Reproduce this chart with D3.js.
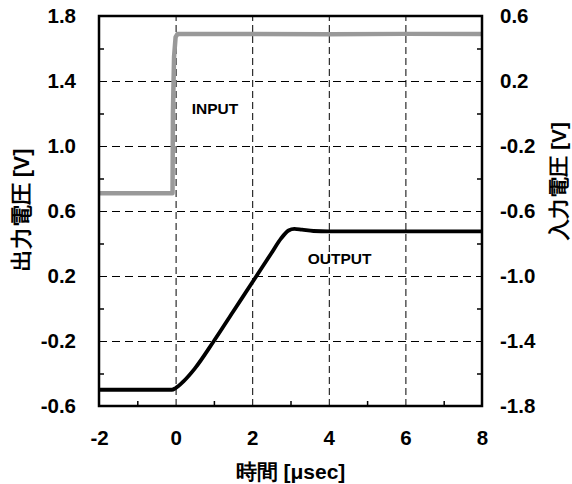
<!DOCTYPE html>
<html>
<head>
<meta charset="utf-8">
<script src="https://cdn.jsdelivr.net/npm/d3@7"></script>
<style>
  body { margin: 0; background: #fff; }
  text { font-family: "Liberation Sans", Arial, sans-serif; font-weight: bold; }
</style>
</head>
<body>
<div id="wrapper"></div>
<script>
// data
const outputTime = [-2, -0.1, 0, 0.2, 0.5, 1.0, 1.5, 2.0, 2.5, 2.75, 2.95, 3.1, 3.3, 3.6, 4.0, 5, 6, 7, 8]
const outputVolt = [-0.50, -0.50, -0.49, -0.45, -0.37, -0.20, -0.02, 0.16, 0.34, 0.43, 0.48, 0.49, 0.485, 0.477, 0.475, 0.475, 0.475, 0.475, 0.475]
const inputTime = [-2, -0.08, -0.07, -0.04, 0.0, 0.05, 2, 4, 6, 8]
const inputVolt = [-0.49, -0.49, 0.0, 0.35, 0.47, 0.49, 0.49, 0.488, 0.49, 0.49]
const xTicks = [-2, 0, 2, 4, 6, 8]
const xMinor = [-1, 1, 3, 5, 7]
const leftTicks = [1.8, 1.4, 1.0, 0.6, 0.2, -0.2, -0.6]
const leftMinor = [1.6, 1.2, 0.8, 0.4, 0.0, -0.4]
const rightTicks = [0.6, 0.2, -0.2, -0.6, -1.0, -1.4, -1.8]
const rightMinor = [0.4, 0.0, -0.4, -0.8, -1.2, -1.6]

function drawChart() {
    let dimensions = {
        width: 572,
        height: 484,
        margin: { top: 16, right: 90, bottom: 78, left: 99 },
    }
    dimensions.boundedWidth = dimensions.width - dimensions.margin.left - dimensions.margin.right
    dimensions.boundedHeight = dimensions.height - dimensions.margin.top - dimensions.margin.bottom

    const wrapper = d3.select("#wrapper")
        .append("svg")
        .attr("width", dimensions.width)
        .attr("height", dimensions.height)

    const bounds = wrapper.append("g")
        .attr("transform", `translate(${dimensions.margin.left},${dimensions.margin.top})`)

    // scales
    const xScale = d3.scaleLinear().domain([-2, 8]).range([0, dimensions.boundedWidth])
    const yLeft = d3.scaleLinear().domain([-0.6, 1.8]).range([dimensions.boundedHeight, 0])
    const yRight = d3.scaleLinear().domain([-1.8, 0.6]).range([dimensions.boundedHeight, 0])

    // dashed grid
    const gridX = bounds.append("g")
        .attr("transform", `translate(0,${dimensions.boundedHeight})`)
        .call(d3.axisBottom(xScale).tickValues(xTicks.slice(1, -1)).tickSize(-dimensions.boundedHeight).tickFormat(""))
    const gridY = bounds.append("g")
        .call(d3.axisLeft(yLeft).tickValues(leftTicks.slice(1, -1)).tickSize(-dimensions.boundedWidth).tickFormat(""))
    ;[gridX, gridY].forEach(g => {
        g.select(".domain").remove()
        g.selectAll("line").attr("stroke", "#000").attr("stroke-width", 1)
    })
    gridX.selectAll("line").attr("stroke-dasharray", "7,4")
    gridY.selectAll("line").attr("stroke-dasharray", "8,5")

    // minor ticks (inward)
    const minorBottom = bounds.append("g")
        .attr("transform", `translate(0,${dimensions.boundedHeight})`)
        .call(d3.axisBottom(xScale).tickValues(xMinor).tickSize(-5).tickFormat(""))
    const minorLeft = bounds.append("g")
        .call(d3.axisLeft(yLeft).tickValues(leftMinor).tickSize(-5).tickFormat(""))
    const minorRight = bounds.append("g")
        .attr("transform", `translate(${dimensions.boundedWidth},0)`)
        .call(d3.axisRight(yRight).tickValues(rightMinor).tickSize(-5).tickFormat(""))
    ;[minorBottom, minorLeft, minorRight].forEach(g => {
        g.select(".domain").remove()
        g.selectAll("line").attr("stroke", "#000").attr("stroke-width", 1.5)
    })

    // tick labels
    const labelX = bounds.append("g")
        .attr("transform", `translate(0,${dimensions.boundedHeight})`)
        .call(d3.axisBottom(xScale).tickValues(xTicks).tickSize(0).tickPadding(24).tickFormat(d3.format("d")))
    const labelL = bounds.append("g")
        .call(d3.axisLeft(yLeft).tickValues(leftTicks).tickSize(0).tickPadding(23).tickFormat(d3.format(".1f")))
    const labelR = bounds.append("g")
        .attr("transform", `translate(${dimensions.boundedWidth},0)`)
        .call(d3.axisRight(yRight).tickValues(rightTicks).tickSize(0).tickPadding(18).tickFormat(d3.format(".1f")))
    ;[labelX, labelL, labelR].forEach(g => {
        g.select(".domain").remove()
        g.selectAll("text")
            .attr("fill", "#000")
            .style("font-size", "20.5px")
            .style("font-family", "'Liberation Sans', Arial, sans-serif")
            .style("font-weight", "bold")
    })
    labelX.selectAll("text").text(d => d < 0 ? "-" + Math.abs(d) : d)
    labelL.selectAll("text").text(d => d3.format(".1f")(d).replace("−", "-"))
    labelR.selectAll("text").text(d => d3.format(".1f")(d).replace("−", "-"))

    // lines
    const inputLine = d3.line()
        .x((d, i) => xScale(inputTime[i]))
        .y(d => yRight(d))
    const outputLine = d3.line()
        .x((d, i) => xScale(outputTime[i]))
        .y(d => yLeft(d))
        .curve(d3.curveMonotoneX)

    bounds.append("path")
        .attr("d", inputLine(inputVolt))
        .attr("fill", "none")
        .attr("stroke", "#999")
        .attr("stroke-width", 4.5)
        .attr("stroke-linejoin", "round")

    bounds.append("path")
        .attr("d", outputLine(outputVolt))
        .attr("fill", "none")
        .attr("stroke", "#000")
        .attr("stroke-width", 3.8)
        .attr("stroke-linejoin", "round")

    // frame
    bounds.append("rect")
        .attr("width", dimensions.boundedWidth)
        .attr("height", dimensions.boundedHeight)
        .attr("fill", "none")
        .attr("stroke", "#000")
        .attr("stroke-width", 2.5)

    // series labels
    bounds.append("text")
        .attr("x", xScale(0.42))
        .attr("y", yLeft(1.2))
        .style("font-size", "15.5px")
        .text("INPUT")
    bounds.append("text")
        .attr("x", xScale(3.45))
        .attr("y", yLeft(0.47) + 32)
        .style("font-size", "15.5px")
        .text("OUTPUT")

    // axis titles
    wrapper.append("text")
        .attr("text-anchor", "middle")
        .attr("x", dimensions.margin.left + dimensions.boundedWidth / 2)
        .attr("y", 479)
        .style("font-size", "21px")
        .text("時間 [μsec]")

    wrapper.append("text")
        .attr("text-anchor", "middle")
        .attr("transform", `translate(29,210) rotate(-90)`)
        .style("font-size", "21.5px")
        .text("出力電圧 [V]")

    wrapper.append("text")
        .attr("text-anchor", "middle")
        .attr("transform", `translate(566,181) rotate(-90)`)
        .style("font-size", "21px")
        .text("入力電圧 [V]")
}
drawChart()
</script>
</body>
</html>
